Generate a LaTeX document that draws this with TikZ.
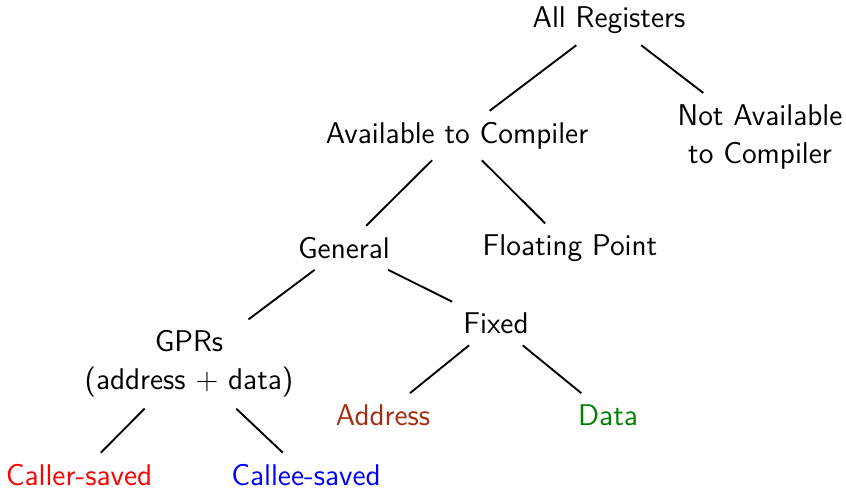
\documentclass[tikz,border=0pt]{standalone}
\renewcommand{\familydefault}{\sfdefault}
\definecolor{addrcol}{RGB}{165,45,15}
\definecolor{datacol}{RGB}{0,128,0}
\begin{document}
\begin{tikzpicture}[x=0.4pt,y=-0.4pt,
  every node/.style={font=\fontsize{12}{15.2}\selectfont\sffamily, inner sep=4.5pt, outer sep=0pt, align=center},
  edge/.style={draw=black, line width=0.75pt}]
\useasboundingbox (0,0) rectangle (846,489);
\node (all) at (609,20.5) {All Registers};
\node (notav) at (760,136.5) {Not Available\\to Compiler};
\node (av) at (457,135.5) {Available to Compiler};
\node (gen) at (344,247.8) {General};
\node (fp) at (570,248.2) {Floating Point};
\node (gpr) at (189,364) {GPRs\\(address + data)};
\node (fixed) at (496,323.5) {Fixed};
\node[text=addrcol] (addr) at (383,415) {Address};
\node[text=datacol] (data) at (608,415) {Data};
\node[text=red] (caller) at (79,474.6) {Caller-saved};
\node[text=blue] (callee) at (306,474.6) {Callee-saved};
\draw[edge] (all) -- (av);
\draw[edge] (all) -- (notav);
\draw[edge] (av) -- (gen);
\draw[edge] (av) -- (fp);
\draw[edge] (gen) -- (gpr);
\draw[edge] (gen) -- (fixed);
\draw[edge] (fixed) -- (addr);
\draw[edge] (fixed) -- (data);
\draw[edge] (gpr) -- (caller);
\draw[edge] (gpr) -- (callee);
\end{tikzpicture}
\end{document}
